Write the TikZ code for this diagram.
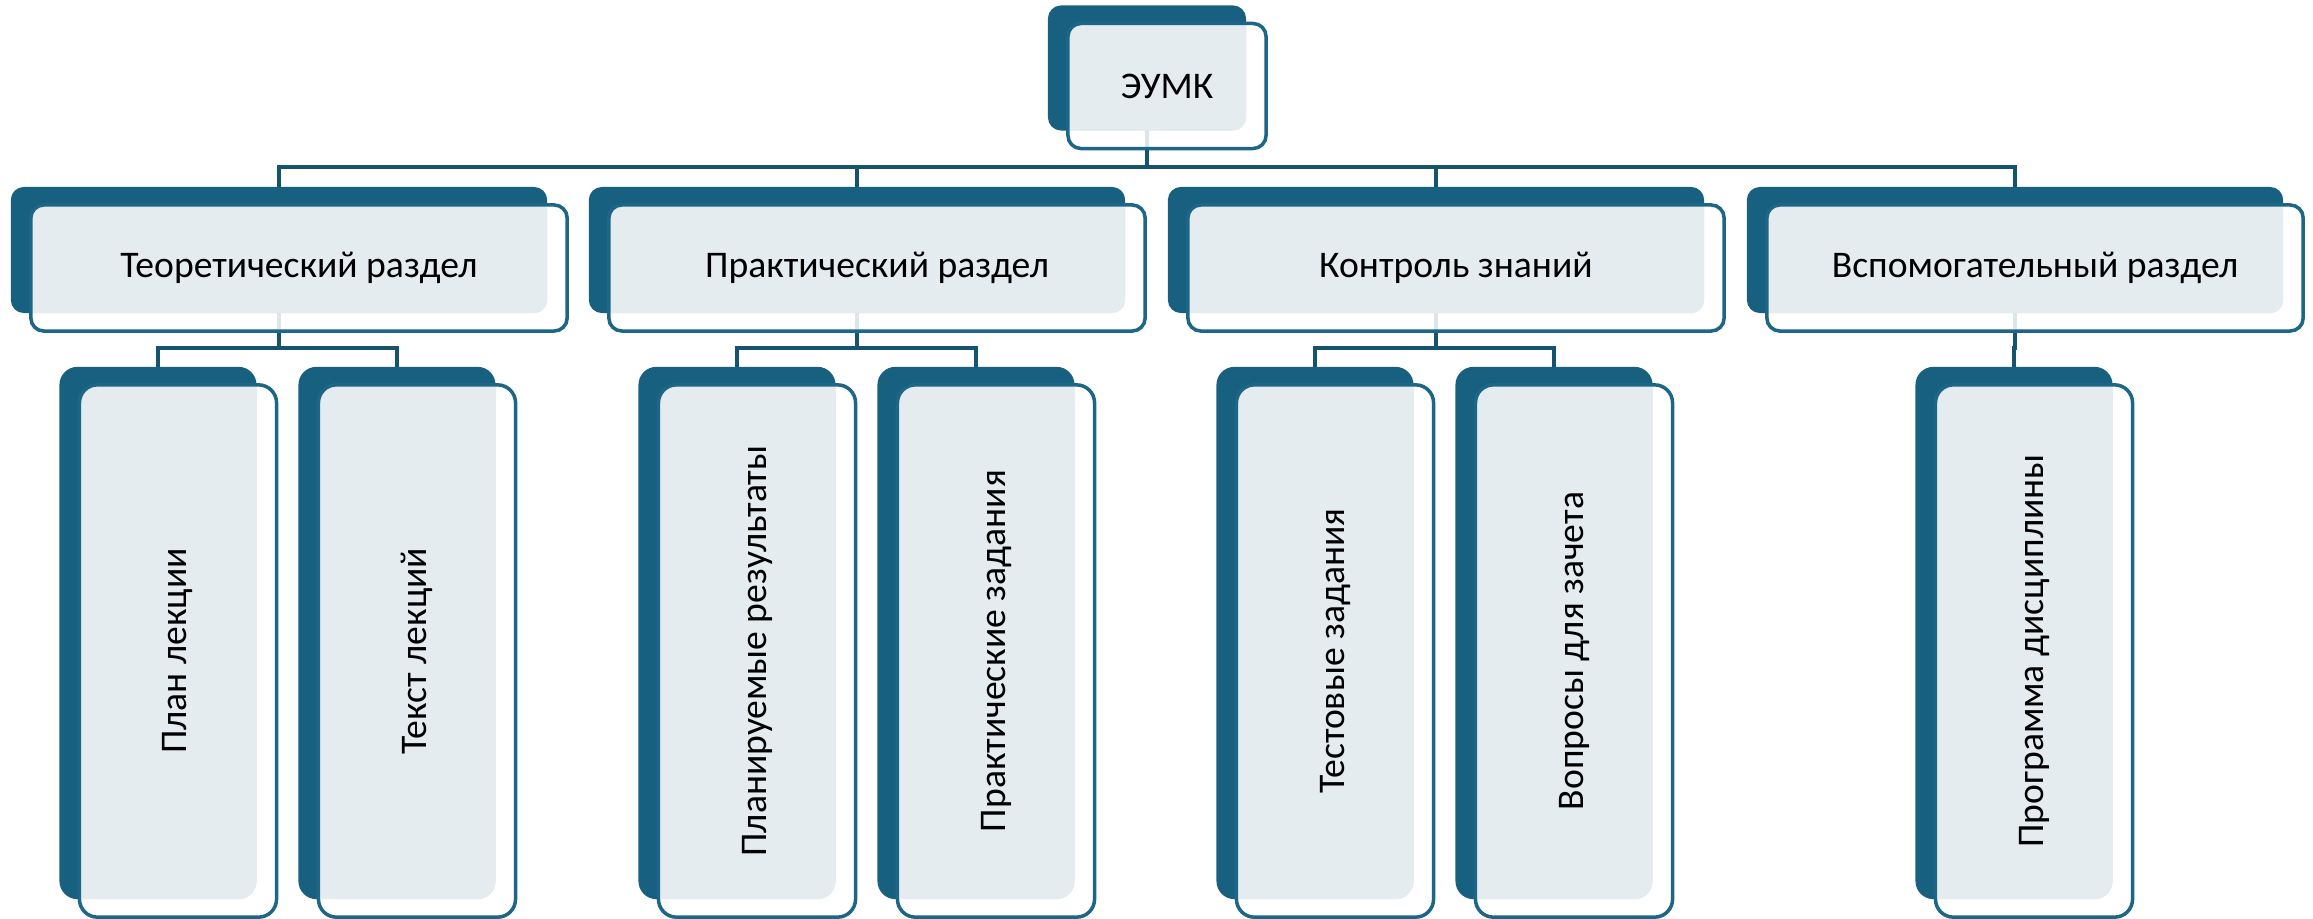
\documentclass[tikz,border=0pt]{standalone}
\usepackage{fontspec}
\setmainfont{Carlito}
\usepackage{graphicx}
\usetikzlibrary{calc,positioning}
\pgfdeclarelayer{back}
\pgfsetlayers{back,main}
\definecolor{deep}{RGB}{24,96,128}
\definecolor{pale}{RGB}{229,236,240}
\definecolor{rim}{RGB}{30,102,136}
\definecolor{wire}{RGB}{22,84,110}

\begin{document}
\begin{tikzpicture}[x=0.01cm,y=-0.01cm,font=\fontsize{10.7}{12}\selectfont,
        card/.style={draw=rim,line width=1pt,rounded corners=#1,inner sep=0pt,
          preaction={fill=deep,transform canvas={shift={(-0.2cm,0.18cm)}}},
          path picture={
            \fill[white,opacity=0.85] (path picture bounding box.south west)
              rectangle (path picture bounding box.north east);
            \fill[pale,rounded corners=#1]
              ($(path picture bounding box.south west)+(-0.2cm,0.18cm)$)
              rectangle ($(path picture bounding box.north east)+(-0.2cm,0.18cm)$);}},
        card/.default=1.3mm,
        head/.style={card,minimum width=1.98cm,minimum height=1.25cm},
        part/.style={card,minimum width=5.36cm,minimum height=1.26cm},
        leaf/.style={card=1.8mm,minimum width=1.97cm,minimum height=5.32cm},
        link/.style={draw=wire,line width=1pt},
        drop/.style={to path={([xshift=-2mm]\tikztostart.center) -- ++(0,#1)
          -| ([xshift=-2mm]\tikztotarget.center)}}]

  \useasboundingbox (0,0) rectangle (2313,918);

  \node[head] (umk) at (1167,86) {ЭУМК};

  \node[part] (theo) at (299,268)  {Теоретический раздел};
  \node[part] (prac) at (877,268)  {Практический раздел};
  \node[part] (ctrl) at (1456,268) {Контроль знаний};
  \node[part] (aux)  at (2035,268) {Вспомогательный раздел};

  \node[leaf] (t_1) at (178,651)  {\rotatebox{90}{План лекции}};
  \node[leaf] (t_2) at (417,651)  {\rotatebox{90}{Текст лекций}};
  \node[leaf] (p_1) at (757,651)  {\rotatebox{90}{Планируемые результаты}};
  \node[leaf] (p_2) at (996,651)  {\rotatebox{90}{Практические задания}};
  \node[leaf] (c_1) at (1335,651) {\rotatebox{90}{Тестовые задания}};
  \node[leaf] (c_2) at (1574,651) {\rotatebox{90}{Вопросы для зачета}};
  \node[leaf] (a_1) at (2034,651) {\rotatebox{90}{Программа дисциплины}};

  \begin{pgfonlayer}{back}
    \path[link] (umk) edge[drop=81] (theo)
                      edge[drop=81] (prac)
                      edge[drop=81] (ctrl)
                      edge[drop=81] (aux)
          (theo) edge[drop=80] (t_1)
                 edge[drop=80] (t_2)
          (prac) edge[drop=80] (p_1)
                 edge[drop=80] (p_2)
          (ctrl) edge[drop=80] (c_1)
                 edge[drop=80] (c_2)
          (aux)  edge[drop=80] (a_1);
  \end{pgfonlayer}

\end{tikzpicture}
\end{document}
